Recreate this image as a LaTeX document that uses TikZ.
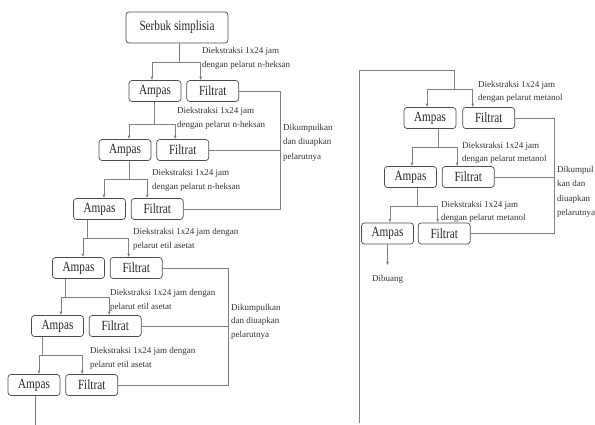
\documentclass[tikz,border=0pt]{standalone}
\usepackage{fontspec}
\setmainfont{Liberation Serif}
\newfontfamily\boxfont{Liberation Serif}[FakeStretch=0.8]
\usetikzlibrary{arrows.meta,positioning}

\begin{document}
\begin{tikzpicture}
[x=1pt, y=-1pt,
% STYLES
% The stage style is used to draw the Ampas / Filtrat boxes
stage/.style={rectangle, draw=black!70, rounded corners=3pt, line width=0.7pt, minimum width=52pt, minimum height=21pt, inner sep=0pt, font=\boxfont\fontsize{14}{14}\selectfont, text=black!85},
% The note style is used to describe each extraction step
note/.style={anchor=north west, align=left, inner sep=0pt, font=\fontsize{9}{14.5}\selectfont, text=black!80},
link/.style={draw=black!50, line width=0.6pt},
arr/.style={link, -{Latex[length=3.5pt,width=3pt]}}]

\useasboundingbox (0,0) rectangle (595,425);

% Draw stages, left column
\node [stage, minimum width=102pt, minimum height=31pt] (serbuk) at (177,27.5) {Serbuk simplisia};
\node [stage] (amp1) at (155,91) {Ampas};
\node [stage, right=5pt of amp1] (fil1) {Filtrat};
\node [stage] (amp2) at (125,150) {Ampas};
\node [stage, right=5pt of amp2] (fil2) {Filtrat};
\node [stage] (amp3) at (99.5,209) {Ampas};
\node [stage, right=5pt of amp3] (fil3) {Filtrat};
\node [stage] (amp4) at (78.5,268) {Ampas};
\node [stage, right=5pt of amp4] (fil4) {Filtrat};
\node [stage] (amp5) at (57.5,326) {Ampas};
\node [stage, right=5pt of amp5] (fil5) {Filtrat};
\node [stage] (amp6) at (34,385) {Ampas};
\node [stage, right=5pt of amp6] (fil6) {Filtrat};

% Draw stages, right column
\node [stage] (ampR1) at (430,118) {Ampas};
\node [stage, right=6pt of ampR1] (filR1) {Filtrat};
\node [stage] (ampR2) at (410.5,177) {Ampas};
\node [stage, right=5pt of ampR2] (filR2) {Filtrat};
\node [stage] (ampR3) at (387.5,233.5) {Ampas};
\node [stage, right=4pt of ampR3] (filR3) {Filtrat};
\node [inner sep=1pt, font=\fontsize{9}{9}\selectfont, text=black!80, below=30pt of ampR3] (dibuang) {Dibuang};

%%%%%%%%%%%%%%%
% Comments

% n-heksan
\node [note] at (202,47) {Diekstraksi 1x24 jam\\dengan pelarut n-heksan};
\node [note] at (177,107) {Diekstraksi 1x24 jam\\dengan pelarut n-heksan};
\node [note] at (152,169) {Diekstraksi 1x24 jam\\dengan pelarut n-heksan};

% etil asetat
\node [note] at (133,228) {Diekstraksi 1x24 jam dengan\\pelarut etil asetat};
\node [note] at (110,289) {Diekstraksi 1x24 jam dengan\\pelarut etil asetat};
\node [note] at (90,347) {Diekstraksi 1x24 jam dengan\\pelarut etil asetat};

% metanol
\node [note, font=\fontsize{9}{13}\selectfont] at (478,81) {Diekstraksi 1x24 jam\\dengan pelarut metanol};
\node [note, font=\fontsize{9}{13}\selectfont] at (462,142) {Diekstraksi 1x24 jam\\dengan pelarut metanol};
\node [note, font=\fontsize{9}{13}\selectfont] at (441,201) {Diekstraksi 1x24 jam\\dengan pelarut metanol};

% collected filtrates
\node [note] at (283,124) {Dikumpulkan\\dan diuapkan\\pelarutnya};
\node [note, font=\fontsize{9}{13.5}\selectfont] at (231,304) {Dikumpulkan\\dan diuapkan\\pelarutnya};
\node [note] at (557,166) {Dikumpul\\kan dan\\diuapkan\\pelarutnya};

%%%%%%%%%%%%%%%
% Draw the links between stages

% split points
\coordinate (s1) at (179,62);
\coordinate (s2) at (154,124);
\coordinate (s3) at (129,179);
\coordinate (s4) at (87,238);
\coordinate (s5) at (65,297);
\coordinate (s6) at (42,355);
\coordinate (r1) at (454,89);
\coordinate (r2) at (438,147);
\coordinate (r3) at (417,206);

\draw[link] (serbuk.south -| s1) -- (s1);
\draw[arr] (s1) -| ([xshift=-3pt]amp1.north);
\draw[arr] (s1) -| ([xshift=-12pt]fil1.north);

\draw[link] (amp1.south -| s2) -- (s2);
\draw[arr] (s2) -| ([xshift=4pt]amp2.north);
\draw[arr] (s2) -| ([xshift=-7.5pt]fil2.north);

\draw[link] (amp2.south -| s3) -- (s3);
\draw[arr] (s3) -| ([xshift=4.5pt]amp3.north);
\draw[arr] (s3) -| ([xshift=-10pt]fil3.north);

\draw[link] (amp3.south -| s4) -- (s4);
\draw[arr] (s4) -| ([xshift=4.5pt]amp4.north);
\draw[arr] (s4) -| ([xshift=-7.5pt]fil4.north);

\draw[link] (amp4.south -| s5) -- (s5);
\draw[arr] (s5) -| ([xshift=3.5pt]amp5.north);
\draw[arr] (s5) -| ([xshift=-6pt]fil5.north);

\draw[link] (amp5.south -| s6) -- (s6);
\draw[arr] (s6) -| ([xshift=5pt]amp6.north);
\draw[arr] (s6) -| ([xshift=-9.5pt]fil6.north);

% continue to the right column
\coordinate (endL) at (35,425);
\coordinate (endR) at (359,423);
\coordinate (topR) at (359,70);
\draw[link] (amp6.south -| endL) -- (endL);
\draw[link] (endR) -- (topR) -| (r1);

\draw[arr] (r1) -| ([xshift=-3pt]ampR1.north);
\draw[arr] (r1) -| ([xshift=-16pt]filR1.north);

\draw[link] (ampR1.south -| r2) -- (r2);
\draw[arr] (r2) -| ([xshift=1.5pt]ampR2.north);
\draw[arr] (r2) -| ([xshift=-11pt]filR2.north);

\draw[link] (ampR2.south -| r3) -- (r3);
\draw[arr] (r3) -| ([xshift=2.5pt]ampR3.north);
\draw[arr] (r3) -| ([xshift=-6.5pt]filR3.north);

\draw[arr, shorten >=9pt] (ampR3.south) -- (dibuang.north);

% collect the filtrates
\coordinate (k1) at (280,0);
\coordinate (k2) at (228,0);
\coordinate (k3) at (554,0);
\draw[link] (fil1.east) -- (fil1.east -| k1) -- (fil3.east -| k1) -- (fil3.east);
\draw[link] (fil2.east) -- (fil2.east -| k1);
\draw[link] (fil4.east) -- (fil4.east -| k2) -- (fil6.east -| k2) -- (fil6.east);
\draw[link] (fil5.east) -- (fil5.east -| k2);
\draw[link] (filR1.east) -- (filR1.east -| k3) -- (filR3.east -| k3) -- (filR3.east);
\draw[link] (filR2.east) -- (filR2.east -| k3);

\end{tikzpicture}
\end{document}
